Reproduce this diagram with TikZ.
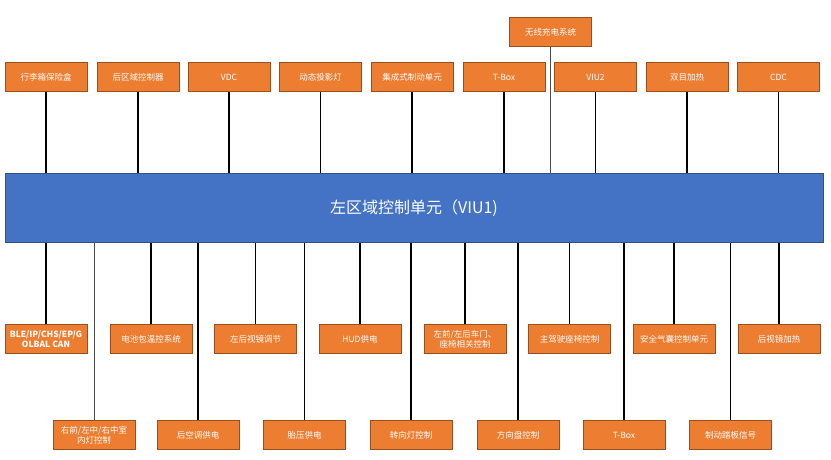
\documentclass[tikz,border=0pt]{standalone}
\usepackage{fontspec}
\setmainfont{Noto Sans CJK SC}
\definecolor{orangefill}{HTML}{ED7D31}
\definecolor{orangeborder}{HTML}{9C4F1C}
\definecolor{barfill}{HTML}{4472C4}
\definecolor{barborder}{HTML}{2F528F}
\begin{document}
\begin{tikzpicture}[x=1pt,y=-1pt,
  box/.style={draw=orangeborder, fill=orangefill, line width=0.9pt,
    minimum width=82pt, minimum height=29pt, inner sep=1pt, text=white,
    font=\fontsize{8.5}{10}\selectfont, align=center},
  link/.style={line width=1.6pt, black},
  thinlink/.style={line width=1pt, black!70}]
\useasboundingbox (0,0) rectangle (831,460);
% main bar
\node[draw=barborder, fill=barfill, line width=0.8pt, minimum width=818pt,
  minimum height=69pt, inner sep=0pt, text=white,
  font=\fontsize{16}{18}\selectfont] (bar) at (414,208) {左区域控制单元（VIU1)};
% top row
\node[box] (t1) at (46,77) {行李箱保险盒};
\node[box] (t2) at (138,77) {后区域控制器};
\node[box] (t3) at (229,77) {VDC};
\node[box] (t4) at (320.5,77) {动态投影灯};
\node[box] (t5) at (412,77) {集成式制动单元};
\node[box] (t6) at (504,77) {T-Box};
\node[box] (t7) at (595.5,77) {VIU2};
\node[box] (t8) at (687,77) {双目加热};
\node[box] (t9) at (778.5,77) {CDC};
\node[box] (tw) at (550.5,32) {无线充电系统};
\foreach \n in {t1,t2,t3,t4,t5,t6,t7,t8,t9}
  \draw[link] (\n) -- (\n |- bar.north);
\draw[thinlink] (tw) -- (tw |- bar.north);
% bottom upper row
\node[box, font=\fontsize{8.5}{10}\selectfont\bfseries] (u1) at (46,339) {BLE/IP/CHS/EP/G\\OLBAL CAN};
\node[box] (u2) at (151,339) {电池包温控系统};
\node[box] (u3) at (255.5,339) {左后视镜调节};
\node[box] (u4) at (360,339) {HUD供电};
\node[box] (u5) at (465,339) {左前/左后车门、\\座椅相关控制};
\node[box] (u6) at (569.5,339) {主驾驶座椅控制};
\node[box] (u7) at (674,339) {安全气囊控制单元};
\node[box] (u8) at (779,339) {后视镜加热};
\foreach \n in {u1,u2,u3,u4,u5,u6,u7,u8}
  \draw[link] (\n) -- (\n |- bar.south);
% bottom lower row
\node[box] (l1) at (94,435) {右前/左中/右中室\\内灯控制};
\node[box] (l2) at (198,435) {后空调供电};
\node[box] (l3) at (304.5,435) {胎压供电};
\node[box] (l4) at (411,435) {转向灯控制};
\node[box] (l5) at (518,435) {方向盘控制};
\node[box] (l6) at (624,435) {T-Box};
\node[box] (l7) at (730.5,435) {制动踏板信号};
\draw[thinlink] (l1) -- (l1 |- bar.south);
\foreach \n in {l2,l3,l4,l5,l6,l7}
  \draw[link] (\n) -- (\n |- bar.south);
\end{tikzpicture}
\end{document}
